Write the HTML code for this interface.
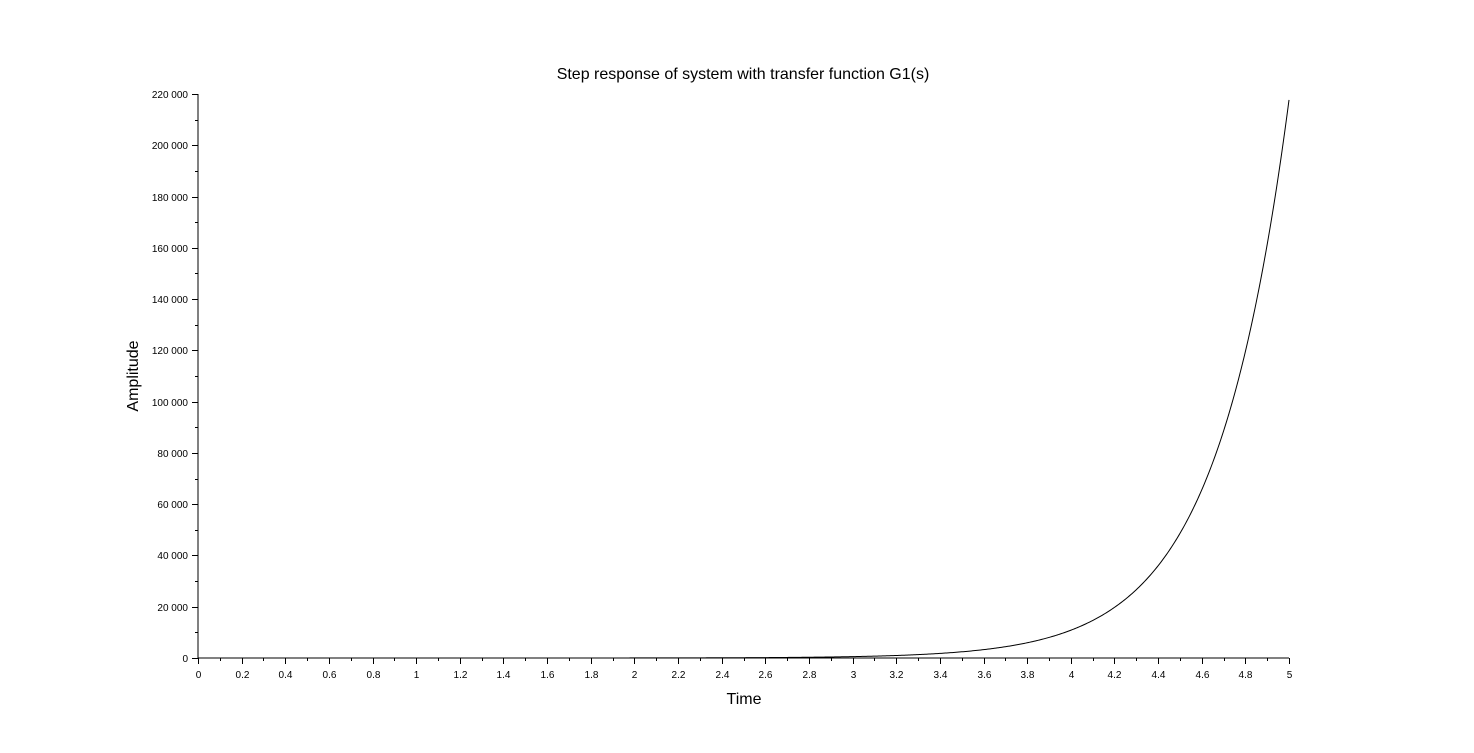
<!DOCTYPE html>
<html><head><meta charset="utf-8"><style>
body{margin:0;background:#fff;}
svg{display:block;font-family:"Liberation Sans",Arial,sans-serif;}
</style></head><body>
<svg id="chart" width="1474" height="753" viewBox="0 0 1474 753">
<rect width="1474" height="753" fill="#fff"/>
<text x="743" y="79" font-size="16" text-anchor="middle">Step response of system with transfer function G1(s)</text>
<text x="744" y="704" font-size="16" text-anchor="middle">Time</text>
<text transform="translate(138,376) rotate(-90)" font-size="16" text-anchor="middle">Amplitude</text>
<g id="axes"></g>
<path id="curve" fill="none" stroke="#000" stroke-width="1"/>
</svg>
<script>
const times = [0,0.5,1,1.5,2,2.2,2.4,2.6,2.8,3.0,3.1,3.2,3.3,3.4,3.5,3.6,3.7,3.8,3.9,4.0,4.1,4.2,4.3,4.4,4.5,4.6,4.7,4.8,4.9,5.0];
const amplitude = [0,0,1,6,27,49,89,162,295,538,727,980,1325,1790,2415,3260,4400,5940,8020,10830,14620,19740,26640,35970,48560,65550,88500,119500,161300,217700];
const xTicks = [0,0.2,0.4,0.6,0.8,1,1.2,1.4,1.6,1.8,2,2.2,2.4,2.6,2.8,3,3.2,3.4,3.6,3.8,4,4.2,4.4,4.6,4.8,5];
const yTicks = [0,20000,40000,60000,80000,100000,120000,140000,160000,180000,200000,220000];
const yTickLabels = ["0","20 000","40 000","60 000","80 000","100 000","120 000","140 000","160 000","180 000","200 000","220 000"];

const X0=198,X1=1289,Y0=658,Y1=94;
const xs=t=>X0+(t-0)/(5-0)*(X1-X0);
const ys=v=>Y0-(v-0)/(220000-0)*(Y0-Y1);
const NS="http://www.w3.org/2000/svg";
const g=document.getElementById('axes');
function mk(tag,attrs,parent){const e=document.createElementNS(NS,tag);for(const k in attrs)e.setAttribute(k,attrs[k]);(parent||g).appendChild(e);return e;}

const xa=mk('line',{x1:X0,y1:Y0,x2:X1,y2:Y0,stroke:'#000'});


const ya=mk('line',{x1:X0,y1:Y0,x2:X0,y2:Y1,stroke:'#000'});



xTicks.forEach((t,i)=>{
  const x=Math.round(xs(t))+0.5;
  const tk=mk('line',{x1:x,y1:Y0,x2:x,y2:Y0+6,stroke:'#000'});
  
  
  if(i<xTicks.length-1){
    const xm=Math.round(xs(t+0.1))+0.5;
    mk('line',{x1:xm,y1:Y0,x2:xm,y2:Y0+3,stroke:'#000'});
  }
  const lb=mk('text',{x:x,y:Y0+20,'font-size':10,'text-anchor':'middle'});
  lb.textContent=String(t);
  
  
});
yTicks.forEach((v,i)=>{
  const y=Math.round(ys(v))+0.5;
  const tk=mk('line',{x1:X0-6,y1:y,x2:X0,y2:y,stroke:'#000'});
  
  
  if(i<yTicks.length-1){
    const ym=Math.round(ys(v+10000))+0.5;
    mk('line',{x1:X0-3,y1:ym,x2:X0,y2:ym,stroke:'#000'});
  }
  const lb=mk('text',{x:X0-10,y:y+3.5,'font-size':10,'text-anchor':'end'});
  lb.textContent=yTickLabels[i];
  
  
});

const L=amplitude.map(a=>Math.log(a+1));
const n=times.length, sl=[];
for(let i=0;i<n;i++){
  if(i===0) sl.push((L[1]-L[0])/(times[1]-times[0]));
  else if(i===n-1) sl.push((L[n-1]-L[n-2])/(times[n-1]-times[n-2]));
  else sl.push((L[i+1]-L[i-1])/(times[i+1]-times[i-1]));
}
function interp(t){
  let i=0; while(i<n-2 && t>times[i+1]) i++;
  const h=times[i+1]-times[i], s=(t-times[i])/h;
  const h00=2*s*s*s-3*s*s+1,h10=s*s*s-2*s*s+s,h01=-2*s*s*s+3*s*s,h11=s*s*s-s*s;
  const l=h00*L[i]+h10*h*sl[i]+h01*L[i+1]+h11*h*sl[i+1];
  return Math.max(0,Math.exp(l)-1);
}
let p='';
const t0=times[0],t1=times[n-1],steps=800;
for(let k=0;k<=steps;k++){
  const t=t0+(t1-t0)*k/steps;
  p+=(k?' L':'M')+xs(t).toFixed(2)+','+ys(interp(t)).toFixed(2);
}
document.getElementById('curve').setAttribute('d',p);
</script>
</body></html>
